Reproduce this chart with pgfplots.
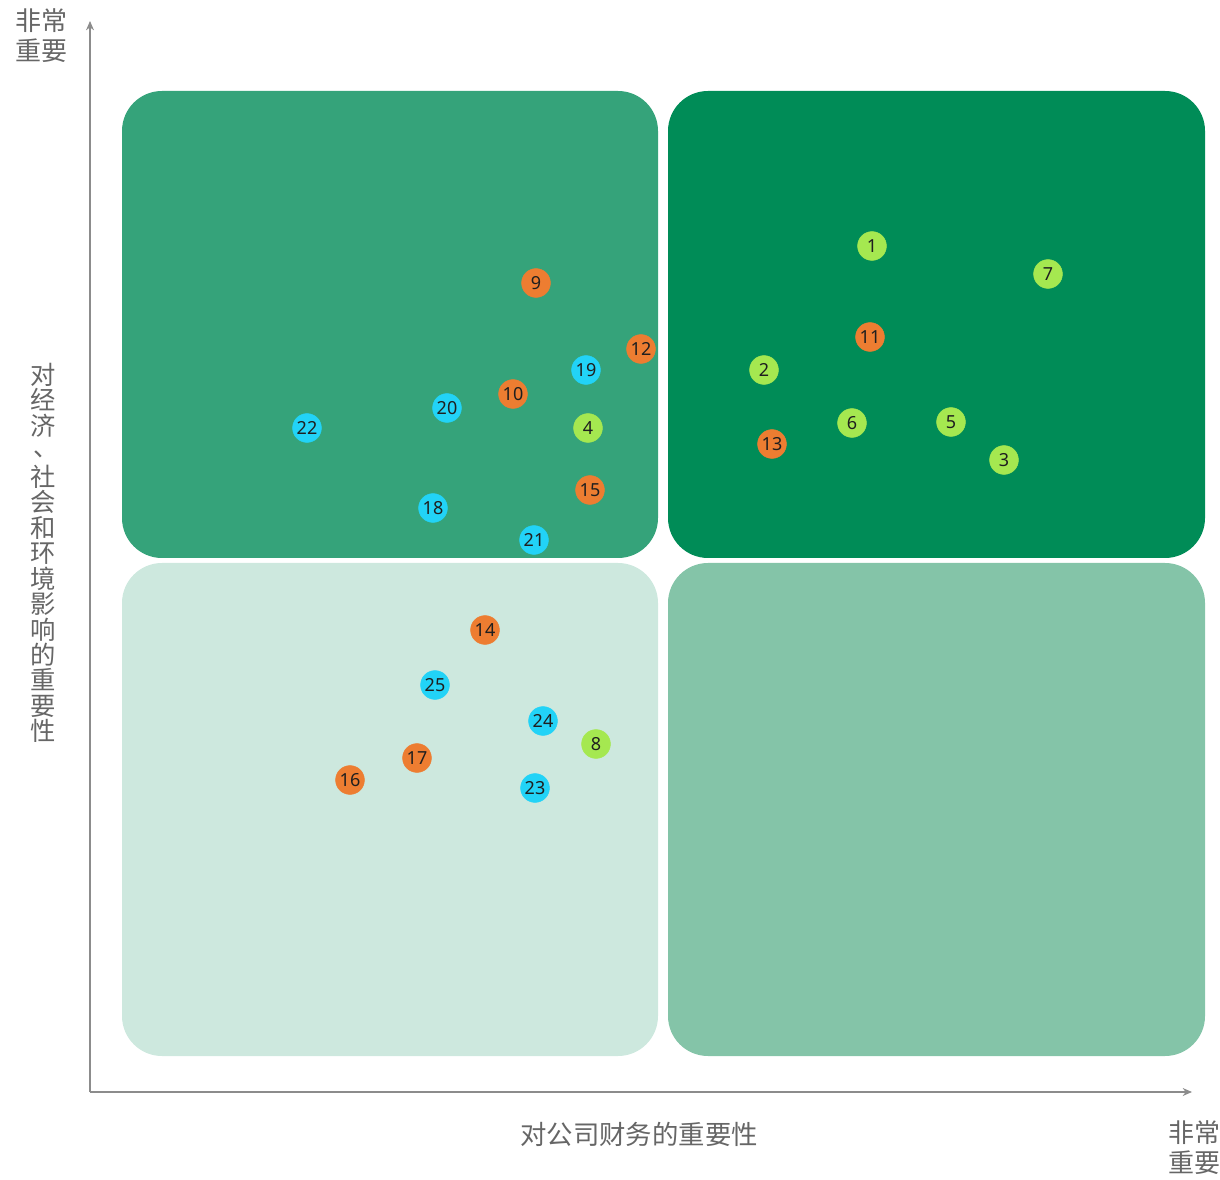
\documentclass[border=0pt]{standalone}
\usepackage{pgfplots}
\pgfplotsset{compat=1.18}
\usepackage{fontspec}
\setmainfont{Noto Sans}
\newfontfamily\cjk{Noto Sans CJK SC}
\usetikzlibrary{arrows.meta}
\definecolor{qTL}{HTML}{35A37A}
\definecolor{qTR}{HTML}{008C57}
\definecolor{qBL}{HTML}{CDE8DE}
\definecolor{qBR}{HTML}{84C4A8}
\definecolor{cG}{HTML}{A5E850}
\definecolor{cO}{HTML}{ED7D31}
\definecolor{cC}{HTML}{22D3F7}
\definecolor{txt}{HTML}{666666}
\definecolor{axc}{HTML}{8C8C8C}
\pgfplotstableread{
x y label
872 933 1
1048 905 7
764 809 2
852 756 6
951 757 5
1004 719 3
588 751 4
596 435 8
}\green
\pgfplotstableread{
x y label
870 842 11
772 735 13
536 896 9
641 830 12
513 785 10
590 689 15
485 549 14
417 421 17
350 399 16
}\orange
\pgfplotstableread{
x y label
586 809 19
447 771 20
307 751 22
433 671 18
534 639 21
435 494 25
543 458 24
535 391 23
}\cyan
\begin{document}
\begin{tikzpicture}
\begin{axis}[width=915pt,height=884.25pt,scale only axis,
  xmin=0,xmax=1220,ymin=0,ymax=1179,axis lines=none,clip=false,
  every node near coord/.style={anchor=center,font=\fontsize{13.5}{14}\selectfont,text={black!88}},
  nodes near coords, point meta=explicit symbolic]
\fill[qTL, rounded corners=30pt] (axis cs:122,1088) rectangle (axis cs:658,621);
\fill[qTR, rounded corners=30pt] (axis cs:668,1088) rectangle (axis cs:1205,621);
\fill[qBL, rounded corners=30pt] (axis cs:122,616) rectangle (axis cs:658,123);
\fill[qBR, rounded corners=30pt] (axis cs:668,616) rectangle (axis cs:1205,123);
\draw[axc, line width=0.9pt, -{Stealth[length=7pt,width=6pt]}] (axis cs:90,87) -- (axis cs:90,1158);
\draw[axc, line width=0.9pt, -{Stealth[length=7pt,width=6pt]}] (axis cs:90,87) -- (axis cs:1192,87);
\addplot[only marks, mark=*, mark size=10.8pt, color=cG] table[meta=label] {\green};
\addplot[only marks, mark=*, mark size=10.8pt, color=cO] table[meta=label] {\orange};
\addplot[only marks, mark=*, mark size=10.8pt, color=cC] table[meta=label] {\cyan};
\node[text=txt, font=\cjk\fontsize{19.5}{22.5}\selectfont, align=center] at (axis cs:41,1143) {非常\\重要};
\node[text=txt, font=\cjk\fontsize{19.5}{22.5}\selectfont, align=center] at (axis cs:1194,31) {非常\\重要};
\node[text=txt, font=\cjk\fontsize{19.8}{22}\selectfont] at (axis cs:639,45) {对公司财务的重要性};
\node[text=txt, font=\cjk\fontsize{19}{19.1}\selectfont, align=center] at (axis cs:43,626) {对\\经\\济\\\raisebox{0.15em}[0.6em][0pt]{\hspace{0.25em}、}\\社\\会\\和\\环\\境\\影\\响\\的\\重\\要\\性};
\end{axis}
\pgfresetboundingbox
\path[use as bounding box] (current axis.south west) rectangle (current axis.north east);
\end{tikzpicture}
\end{document}
